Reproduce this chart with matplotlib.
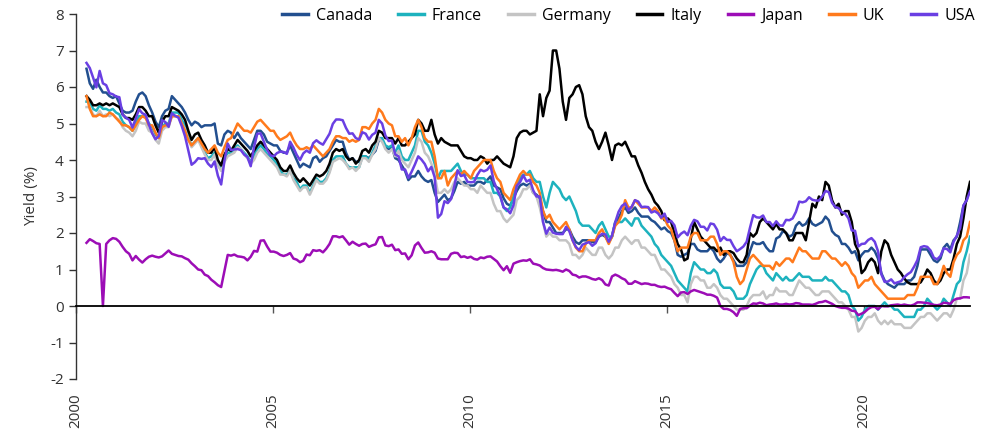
import numpy as np
import matplotlib
matplotlib.use("Agg")
import matplotlib.pyplot as plt

plt.rcParams['font.family'] = ['Open Sans', 'DejaVu Sans']
plt.rcParams['axes.unicode_minus'] = False

# Monthly 10-year government bond yields (%), Jan 2000 - Jun 2022
canada = [
    6.50, 6.10, 5.95, 6.20, 6.00, 5.85, 5.85, 5.75, 5.70, 5.75, 5.55, 5.35,
    5.30, 5.30, 5.35, 5.60, 5.80, 5.85, 5.75, 5.50, 5.30, 5.05, 4.90, 5.20,
    5.35, 5.40, 5.75, 5.65, 5.55, 5.45, 5.30, 5.10, 4.95, 5.05, 5.00, 4.90,
    4.95, 4.95, 4.95, 5.00, 4.45, 4.40, 4.70, 4.80, 4.75, 4.60, 4.75, 4.60,
    4.50, 4.40, 4.30, 4.55, 4.80, 4.80, 4.70, 4.50, 4.45, 4.40, 4.40, 4.25,
    4.20, 4.20, 4.40, 4.20, 4.00, 3.80, 3.90, 3.85, 3.80, 4.05, 4.10, 3.95,
    4.05, 4.10, 4.25, 4.40, 4.55, 4.50, 4.50, 4.20, 4.00, 4.05, 3.95, 3.95,
    4.10, 4.10, 4.05, 4.15, 4.25, 4.55, 4.55, 4.35, 4.30, 4.35, 4.05, 4.00,
    3.85, 3.70, 3.45, 3.55, 3.55, 3.70, 3.55, 3.45, 3.40, 3.45, 3.10, 2.85,
    2.95, 3.05, 2.90, 2.95, 3.15, 3.40, 3.35, 3.40, 3.30, 3.30, 3.30, 3.40,
    3.40, 3.35, 3.45, 3.55, 3.30, 3.25, 3.20, 2.95, 2.80, 2.75, 2.95, 3.15,
    3.30, 3.35, 3.30, 3.35, 3.10, 3.05, 2.95, 2.60, 2.30, 2.30, 2.15, 2.00,
    2.00, 2.00, 2.10, 2.10, 1.90, 1.75, 1.70, 1.80, 1.80, 1.80, 1.75, 1.75,
    1.90, 1.95, 1.90, 1.75, 1.90, 2.30, 2.40, 2.60, 2.70, 2.55, 2.60, 2.70,
    2.55, 2.45, 2.45, 2.45, 2.35, 2.30, 2.20, 2.10, 2.15, 2.05, 2.00, 1.80,
    1.40, 1.35, 1.40, 1.45, 1.70, 1.70, 1.55, 1.50, 1.50, 1.50, 1.60, 1.50,
    1.30, 1.20, 1.30, 1.45, 1.40, 1.25, 1.10, 1.10, 1.10, 1.20, 1.50, 1.75,
    1.70, 1.70, 1.75, 1.60, 1.50, 1.50, 1.85, 1.90, 2.05, 2.00, 1.90, 1.95,
    2.20, 2.30, 2.20, 2.25, 2.40, 2.25, 2.20, 2.25, 2.30, 2.45, 2.35, 2.05,
    1.95, 1.90, 1.70, 1.70, 1.60, 1.45, 1.50, 1.25, 1.40, 1.50, 1.50, 1.60,
    1.50, 1.30, 0.90, 0.70, 0.60, 0.55, 0.50, 0.60, 0.60, 0.60, 0.70, 0.70,
    0.80, 1.10, 1.55, 1.55, 1.55, 1.40, 1.25, 1.20, 1.30, 1.60, 1.70, 1.55,
    1.80, 1.90, 2.30, 2.75, 2.90, 3.30]

france = [
    5.60, 5.60, 5.40, 5.35, 5.50, 5.40, 5.40, 5.35, 5.40, 5.30, 5.25, 5.05,
    4.95, 4.90, 4.80, 5.00, 5.20, 5.20, 5.20, 5.00, 4.90, 4.70, 4.60, 4.90,
    5.00, 5.00, 5.30, 5.30, 5.30, 5.10, 4.95, 4.60, 4.40, 4.50, 4.60, 4.40,
    4.20, 4.05, 4.10, 4.20, 3.90, 3.75, 4.00, 4.20, 4.20, 4.30, 4.40, 4.30,
    4.20, 4.10, 3.95, 4.10, 4.30, 4.40, 4.30, 4.15, 4.10, 4.00, 3.90, 3.70,
    3.60, 3.60, 3.70, 3.50, 3.40, 3.20, 3.30, 3.30, 3.10, 3.30, 3.50, 3.40,
    3.40, 3.50, 3.70, 4.00, 4.10, 4.10, 4.10, 3.90, 3.80, 3.80, 3.80, 3.80,
    4.10, 4.10, 4.00, 4.20, 4.40, 4.60, 4.60, 4.40, 4.35, 4.40, 4.20, 4.40,
    4.10, 4.00, 4.00, 4.20, 4.40, 4.80, 4.80, 4.50, 4.40, 4.20, 3.90, 3.50,
    3.70, 3.70, 3.70, 3.70, 3.80, 3.90, 3.70, 3.60, 3.60, 3.50, 3.50, 3.50,
    3.50, 3.50, 3.40, 3.40, 3.10, 3.10, 3.00, 2.70, 2.60, 2.70, 3.00, 3.30,
    3.50, 3.60, 3.60, 3.70, 3.50, 3.40, 3.40, 3.00, 2.70, 3.10, 3.40, 3.30,
    3.20, 3.00, 2.90, 3.00, 2.80, 2.60, 2.30, 2.20, 2.20, 2.20, 2.10, 2.00,
    2.20, 2.30, 2.10, 1.90, 1.90, 2.30, 2.30, 2.30, 2.40, 2.30, 2.20, 2.40,
    2.40, 2.20, 2.10, 2.00, 1.90, 1.70, 1.60, 1.40, 1.30, 1.20, 1.10, 0.90,
    0.70, 0.60, 0.50, 0.40, 0.90, 1.20, 1.10, 1.00, 1.00, 0.90, 0.90, 1.00,
    0.90, 0.60, 0.50, 0.50, 0.50, 0.40, 0.20, 0.20, 0.20, 0.30, 0.60, 0.80,
    1.00, 1.10, 1.10, 0.90, 0.80, 0.70, 0.90, 0.80, 0.70, 0.80, 0.70, 0.70,
    0.80, 0.90, 0.80, 0.80, 0.80, 0.70, 0.70, 0.70, 0.70, 0.80, 0.70, 0.70,
    0.60, 0.50, 0.40, 0.40, 0.30, 0.00, -0.10, -0.40, -0.30, -0.10, 0.00, 0.00,
    0.00, -0.10, 0.00, 0.10, 0.00, 0.00, -0.10, -0.10, -0.20, -0.30, -0.30, -0.30,
    -0.30, -0.10, -0.10, 0.00, 0.20, 0.10, 0.00, -0.10, 0.00, 0.20, 0.10, 0.00,
    0.30, 0.60, 0.70, 1.20, 1.50, 1.90]

germany = [
    5.45, 5.45, 5.25, 5.20, 5.35, 5.20, 5.25, 5.20, 5.25, 5.15, 5.10, 4.90,
    4.80, 4.75, 4.65, 4.80, 5.05, 5.00, 5.00, 4.80, 4.75, 4.55, 4.45, 4.80,
    4.90, 4.90, 5.20, 5.20, 5.20, 5.00, 4.85, 4.55, 4.35, 4.45, 4.55, 4.35,
    4.15, 4.00, 4.00, 4.15, 3.85, 3.70, 3.95, 4.10, 4.15, 4.20, 4.35, 4.30,
    4.15, 4.05, 3.90, 4.00, 4.20, 4.30, 4.20, 4.10, 4.00, 3.90, 3.80, 3.60,
    3.60, 3.55, 3.70, 3.45, 3.30, 3.15, 3.25, 3.25, 3.05, 3.25, 3.45, 3.35,
    3.35, 3.45, 3.65, 3.95, 4.00, 4.05, 4.00, 3.90, 3.75, 3.80, 3.70, 3.80,
    4.05, 4.05, 3.95, 4.15, 4.30, 4.60, 4.50, 4.30, 4.20, 4.30, 4.10, 4.25,
    4.00, 3.90, 3.80, 4.00, 4.20, 4.60, 4.50, 4.20, 4.10, 3.90, 3.60, 3.10,
    3.10, 3.20, 3.10, 3.20, 3.40, 3.50, 3.40, 3.30, 3.30, 3.20, 3.20, 3.10,
    3.30, 3.20, 3.10, 3.10, 2.80, 2.60, 2.60, 2.40, 2.30, 2.40, 2.50, 2.90,
    3.00, 3.20, 3.20, 3.30, 3.10, 3.00, 2.70, 2.30, 1.90, 2.00, 1.90, 1.90,
    1.80, 1.80, 1.80, 1.70, 1.40, 1.40, 1.30, 1.40, 1.60, 1.50, 1.40, 1.40,
    1.60, 1.60, 1.40, 1.30, 1.40, 1.60, 1.60, 1.80, 1.90, 1.80, 1.70, 1.80,
    1.80, 1.60, 1.60, 1.50, 1.40, 1.40, 1.20, 1.00, 1.00, 0.90, 0.80, 0.60,
    0.50, 0.30, 0.30, 0.10, 0.60, 0.80, 0.80, 0.70, 0.70, 0.50, 0.50, 0.60,
    0.50, 0.30, 0.20, 0.20, 0.10, 0.00, -0.10, -0.10, -0.10, 0.00, 0.20, 0.30,
    0.30, 0.30, 0.40, 0.20, 0.30, 0.30, 0.50, 0.40, 0.40, 0.40, 0.30, 0.30,
    0.50, 0.70, 0.60, 0.50, 0.50, 0.40, 0.30, 0.30, 0.40, 0.40, 0.40, 0.30,
    0.20, 0.10, 0.10, 0.00, -0.10, -0.30, -0.30, -0.70, -0.60, -0.40, -0.30, -0.30,
    -0.20, -0.40, -0.50, -0.40, -0.50, -0.40, -0.50, -0.50, -0.50, -0.60, -0.60, -0.60,
    -0.50, -0.40, -0.30, -0.30, -0.20, -0.20, -0.30, -0.40, -0.30, -0.20, -0.20, -0.30,
    -0.10, 0.20, 0.20, 0.70, 0.90, 1.40]

italy = [
    5.75, 5.65, 5.50, 5.50, 5.55, 5.50, 5.55, 5.50, 5.55, 5.50, 5.45, 5.25,
    5.15, 5.15, 5.10, 5.25, 5.45, 5.45, 5.35, 5.20, 5.20, 4.95, 4.75, 5.05,
    5.20, 5.20, 5.45, 5.40, 5.35, 5.25, 5.10, 4.80, 4.55, 4.70, 4.75, 4.55,
    4.40, 4.20, 4.20, 4.35, 4.00, 3.85, 4.15, 4.30, 4.25, 4.40, 4.55, 4.45,
    4.35, 4.25, 4.10, 4.25, 4.40, 4.50, 4.40, 4.30, 4.20, 4.10, 4.00, 3.80,
    3.70, 3.70, 3.85, 3.65, 3.50, 3.40, 3.50, 3.40, 3.30, 3.45, 3.60, 3.55,
    3.60, 3.70, 3.90, 4.20, 4.30, 4.25, 4.30, 4.10, 4.00, 4.05, 3.90, 4.00,
    4.25, 4.30, 4.20, 4.40, 4.50, 4.80, 4.75, 4.60, 4.60, 4.60, 4.45, 4.60,
    4.40, 4.40, 4.50, 4.60, 4.70, 5.10, 5.00, 4.80, 4.80, 5.10, 4.70, 4.45,
    4.60, 4.50, 4.45, 4.40, 4.40, 4.40, 4.25, 4.10, 4.05, 4.05, 4.00, 4.00,
    4.10, 4.05, 3.90, 4.00, 4.00, 4.10, 4.00, 3.90, 3.85, 3.80, 4.10, 4.60,
    4.75, 4.80, 4.80, 4.70, 4.75, 4.80, 5.80, 5.20, 5.70, 5.90, 7.00, 7.00,
    6.50, 5.60, 5.10, 5.70, 5.80, 6.00, 6.05, 5.80, 5.20, 4.90, 4.80, 4.50,
    4.30, 4.50, 4.75, 4.40, 4.00, 4.40, 4.45, 4.40, 4.50, 4.30, 4.10, 4.10,
    3.85, 3.65, 3.40, 3.20, 3.05, 2.85, 2.75, 2.60, 2.35, 2.40, 2.30, 2.00,
    1.70, 1.55, 1.25, 1.30, 1.85, 2.30, 2.10, 1.90, 1.80, 1.70, 1.60, 1.60,
    1.50, 1.60, 1.40, 1.50, 1.50, 1.45, 1.30, 1.20, 1.20, 1.40, 2.00, 1.90,
    2.00, 2.30, 2.40, 2.30, 2.20, 2.10, 2.25, 2.10, 2.10, 2.00, 1.80, 1.80,
    2.00, 2.00, 2.00, 1.80, 2.30, 2.80, 2.70, 3.00, 2.90, 3.40, 3.30, 2.90,
    2.70, 2.80, 2.50, 2.60, 2.60, 2.30, 1.70, 1.50, 0.90, 1.00, 1.20, 1.30,
    1.20, 0.90, 1.50, 1.80, 1.70, 1.40, 1.20, 1.00, 0.90, 0.75, 0.65, 0.60,
    0.60, 0.60, 0.65, 0.80, 1.00, 0.90, 0.70, 0.60, 0.70, 0.90, 1.00, 1.00,
    1.30, 1.70, 1.90, 2.40, 3.00, 3.40]

japan = [
    1.73, 1.83, 1.78, 1.72, 1.70, 0.00, 1.70, 1.80, 1.86, 1.84, 1.76, 1.62,
    1.50, 1.43, 1.25, 1.37, 1.27, 1.19, 1.28, 1.35, 1.38, 1.35, 1.33, 1.36,
    1.44, 1.52, 1.43, 1.40, 1.37, 1.36, 1.31, 1.27, 1.17, 1.09, 1.00, 0.98,
    0.86, 0.82, 0.72, 0.65, 0.57, 0.52, 0.96, 1.40, 1.38, 1.41, 1.36, 1.35,
    1.33, 1.25, 1.35, 1.51, 1.49, 1.79, 1.80, 1.63, 1.49, 1.49, 1.46, 1.40,
    1.37, 1.40, 1.45, 1.30, 1.27, 1.20, 1.24, 1.41, 1.39, 1.53, 1.51, 1.53,
    1.47, 1.57, 1.70, 1.91, 1.91, 1.88, 1.91, 1.80, 1.68, 1.76, 1.70, 1.65,
    1.70, 1.71, 1.62, 1.66, 1.69, 1.88, 1.89, 1.66, 1.64, 1.68, 1.53, 1.55,
    1.43, 1.44, 1.28, 1.39, 1.66, 1.74, 1.59, 1.46, 1.47, 1.50, 1.46, 1.30,
    1.28, 1.28, 1.28, 1.43, 1.46, 1.45, 1.34, 1.36, 1.32, 1.35, 1.29, 1.27,
    1.33, 1.31, 1.35, 1.36, 1.29, 1.22, 1.09, 0.98, 1.09, 0.91, 1.16, 1.20,
    1.23, 1.25, 1.24, 1.28, 1.16, 1.14, 1.11, 1.04, 1.00, 0.99, 0.98, 0.99,
    0.97, 0.94, 1.00, 0.96, 0.86, 0.84, 0.78, 0.81, 0.81, 0.78, 0.74, 0.72,
    0.76, 0.71, 0.59, 0.56, 0.81, 0.86, 0.82, 0.76, 0.72, 0.61, 0.61, 0.68,
    0.64, 0.60, 0.62, 0.61, 0.58, 0.58, 0.54, 0.52, 0.53, 0.49, 0.46, 0.36,
    0.27, 0.37, 0.38, 0.33, 0.40, 0.44, 0.41, 0.38, 0.35, 0.31, 0.31, 0.28,
    0.23, 0.00, -0.08, -0.08, -0.11, -0.17, -0.27, -0.08, -0.06, -0.06, 0.01, 0.07,
    0.06, 0.09, 0.07, 0.02, 0.04, 0.05, 0.07, 0.04, 0.04, 0.06, 0.04, 0.05,
    0.08, 0.07, 0.04, 0.04, 0.04, 0.03, 0.06, 0.10, 0.11, 0.14, 0.10, 0.06,
    0.00, -0.03, -0.05, -0.05, -0.07, -0.13, -0.14, -0.25, -0.21, -0.16, -0.08, -0.03,
    -0.02, -0.09, 0.00, -0.01, -0.01, 0.02, 0.03, 0.04, 0.02, 0.04, 0.02, 0.01,
    0.04, 0.10, 0.10, 0.09, 0.08, 0.06, 0.03, 0.02, 0.04, 0.09, 0.08, 0.06,
    0.16, 0.20, 0.21, 0.24, 0.24, 0.23]

uk = [
    5.75, 5.40, 5.20, 5.20, 5.25, 5.20, 5.20, 5.30, 5.25, 5.15, 5.05, 4.95,
    4.95, 4.90, 4.80, 4.95, 5.10, 5.20, 5.15, 4.95, 4.95, 4.75, 4.60, 4.90,
    4.95, 4.95, 5.20, 5.20, 5.20, 5.00, 4.80, 4.55, 4.40, 4.50, 4.60, 4.45,
    4.30, 4.20, 4.30, 4.40, 4.20, 4.10, 4.35, 4.55, 4.60, 4.80, 5.00, 4.90,
    4.80, 4.80, 4.75, 4.90, 5.05, 5.10, 5.00, 4.90, 4.80, 4.80, 4.65, 4.55,
    4.60, 4.65, 4.75, 4.55, 4.40, 4.30, 4.30, 4.35, 4.30, 4.40, 4.30, 4.20,
    4.10, 4.20, 4.30, 4.50, 4.65, 4.65, 4.60, 4.60, 4.50, 4.55, 4.50, 4.55,
    4.90, 4.90, 4.85, 5.00, 5.10, 5.40, 5.30, 5.10, 5.00, 4.95, 4.65, 4.65,
    4.50, 4.60, 4.40, 4.60, 4.90, 5.10, 4.90, 4.60, 4.50, 4.50, 4.10, 3.50,
    3.50, 3.70, 3.30, 3.50, 3.60, 3.70, 3.60, 3.70, 3.60, 3.50, 3.70, 3.80,
    3.90, 4.00, 4.00, 4.00, 3.70, 3.50, 3.40, 3.10, 3.00, 2.90, 3.20, 3.40,
    3.60, 3.70, 3.60, 3.60, 3.40, 3.30, 3.10, 2.60, 2.40, 2.50, 2.30, 2.20,
    2.10, 2.20, 2.30, 2.10, 1.80, 1.60, 1.50, 1.50, 1.70, 1.80, 1.80, 1.80,
    2.00, 2.10, 1.90, 1.70, 1.90, 2.20, 2.30, 2.50, 2.90, 2.70, 2.70, 2.90,
    2.80, 2.70, 2.70, 2.70, 2.60, 2.70, 2.60, 2.40, 2.40, 2.20, 2.10, 1.80,
    1.50, 1.60, 1.60, 1.60, 1.90, 2.00, 2.00, 1.80, 1.80, 1.80, 1.90, 1.90,
    1.70, 1.40, 1.50, 1.50, 1.40, 1.20, 0.80, 0.60, 0.70, 1.00, 1.30, 1.40,
    1.30, 1.20, 1.10, 1.10, 1.10, 1.00, 1.20, 1.10, 1.20, 1.30, 1.30, 1.20,
    1.40, 1.60, 1.50, 1.50, 1.40, 1.30, 1.30, 1.30, 1.50, 1.50, 1.40, 1.30,
    1.30, 1.20, 1.10, 1.20, 1.10, 0.90, 0.80, 0.50, 0.60, 0.70, 0.70, 0.80,
    0.60, 0.50, 0.40, 0.30, 0.20, 0.20, 0.20, 0.20, 0.20, 0.20, 0.30, 0.30,
    0.30, 0.50, 0.80, 0.80, 0.80, 0.80, 0.60, 0.60, 0.80, 1.10, 0.90, 0.80,
    1.20, 1.40, 1.50, 1.80, 1.90, 2.30]

usa = [
    6.66, 6.52, 6.26, 5.99, 6.44, 6.10, 6.05, 5.83, 5.80, 5.74, 5.72, 5.24,
    5.16, 5.10, 4.89, 5.14, 5.39, 5.28, 5.24, 4.97, 4.73, 4.57, 4.65, 5.09,
    5.04, 4.91, 5.28, 5.21, 5.16, 4.93, 4.65, 4.26, 3.87, 3.94, 4.05, 4.03,
    4.05, 3.90, 3.81, 3.96, 3.57, 3.33, 3.98, 4.45, 4.27, 4.29, 4.30, 4.27,
    4.15, 4.08, 3.83, 4.35, 4.72, 4.73, 4.50, 4.28, 4.13, 4.10, 4.19, 4.23,
    4.22, 4.17, 4.50, 4.34, 4.14, 4.00, 4.18, 4.26, 4.20, 4.46, 4.54, 4.47,
    4.42, 4.57, 4.72, 4.99, 5.11, 5.11, 5.09, 4.88, 4.72, 4.73, 4.60, 4.56,
    4.76, 4.72, 4.56, 4.69, 4.75, 5.10, 5.00, 4.67, 4.52, 4.53, 4.15, 4.10,
    3.74, 3.74, 3.51, 3.68, 3.88, 4.10, 4.01, 3.89, 3.69, 3.81, 3.53, 2.42,
    2.52, 2.87, 2.82, 2.93, 3.29, 3.72, 3.56, 3.59, 3.40, 3.39, 3.40, 3.59,
    3.73, 3.69, 3.73, 3.85, 3.42, 3.20, 3.01, 2.70, 2.65, 2.54, 2.76, 3.29,
    3.39, 3.58, 3.41, 3.46, 3.17, 3.00, 3.00, 2.30, 1.98, 2.15, 2.01, 1.98,
    1.97, 1.97, 2.17, 2.05, 1.80, 1.62, 1.53, 1.68, 1.72, 1.75, 1.65, 1.72,
    1.91, 1.98, 1.96, 1.76, 1.93, 2.30, 2.58, 2.74, 2.81, 2.62, 2.72, 2.90,
    2.86, 2.71, 2.72, 2.71, 2.56, 2.60, 2.54, 2.42, 2.53, 2.30, 2.33, 2.21,
    1.88, 1.98, 2.04, 1.94, 2.20, 2.36, 2.32, 2.17, 2.17, 2.07, 2.26, 2.24,
    2.09, 1.78, 1.89, 1.81, 1.81, 1.64, 1.50, 1.56, 1.63, 1.76, 2.14, 2.49,
    2.43, 2.42, 2.48, 2.30, 2.30, 2.19, 2.32, 2.21, 2.20, 2.36, 2.35, 2.40,
    2.58, 2.86, 2.84, 2.87, 2.98, 2.91, 2.89, 2.89, 3.00, 3.15, 3.12, 2.83,
    2.71, 2.68, 2.57, 2.53, 2.40, 2.07, 2.06, 1.63, 1.70, 1.71, 1.81, 1.86,
    1.76, 1.50, 0.87, 0.66, 0.67, 0.73, 0.62, 0.65, 0.68, 0.79, 0.87, 0.93,
    1.08, 1.26, 1.61, 1.64, 1.62, 1.52, 1.32, 1.28, 1.37, 1.58, 1.56, 1.47,
    1.76, 1.93, 2.13, 2.75, 2.90, 3.14]

series_names = ["Canada", "France", "Germany", "Italy", "Japan", "UK", "USA"]
series_values = [canada, france, germany, italy, japan, uk, usa]
colors = ["#224f8f", "#1db2be", "#c4c4c4", "#000000", "#9c0db6", "#ff7a1c", "#6a3fe3"]

tick_years = [2000, 2005, 2010, 2015, 2020]
tick_shift = -3.35   # year marks sit ~3.35 months before January in the reference

W, H = 982, 430
fig = plt.figure(figsize=(W / 100, H / 100), dpi=100)
ax = fig.add_axes([75.5 / W, 1 - 379 / H, (970 - 75.5) / W, (379 - 14) / H])

months = np.arange(len(usa))
for name, vals, c in zip(series_names, series_values, colors):
    ax.plot(months, vals, color=c, lw=1.8, label=name, solid_joinstyle='round')

for s in ["top", "right"]:
    ax.spines[s].set_visible(False)
ax.spines["bottom"].set_position(("data", 0))
ax.spines["bottom"].set_linewidth(1.3)
ax.spines["left"].set_linewidth(1.0)
ax.spines["left"].set_color("#333333")

ax.set_xlim(tick_shift, months[-1])
ax.set_ylim(-2, 8)
ax.set_yticks(range(-2, 9))
ax.set_xticks([(y - 2000) * 12 + tick_shift for y in tick_years])
ax.set_xticklabels([str(y) for y in tick_years])

ax.tick_params(axis="y", direction="out", length=5, width=1, colors="#333333",
               labelsize=11, pad=3.5)
ax.tick_params(axis="x", direction="out", length=5, width=1, colors="#555555",
               labelsize=11, pad=58, labelcolor="#333333", labelrotation=90)

ax.set_ylabel("Yield (%)", fontsize=11, color="#333333", labelpad=8)

fig.legend(loc="upper right", bbox_to_anchor=(975 / W, 1 - 8 / H), ncol=7,
           frameon=False, fontsize=11.5, handlelength=1.6, handletextpad=0.5,
           columnspacing=1.65, borderpad=0, borderaxespad=0)
for lh in fig.legends[0].get_lines():
    lh.set_linewidth(2.5)

fig.savefig("out.png", dpi=100)
